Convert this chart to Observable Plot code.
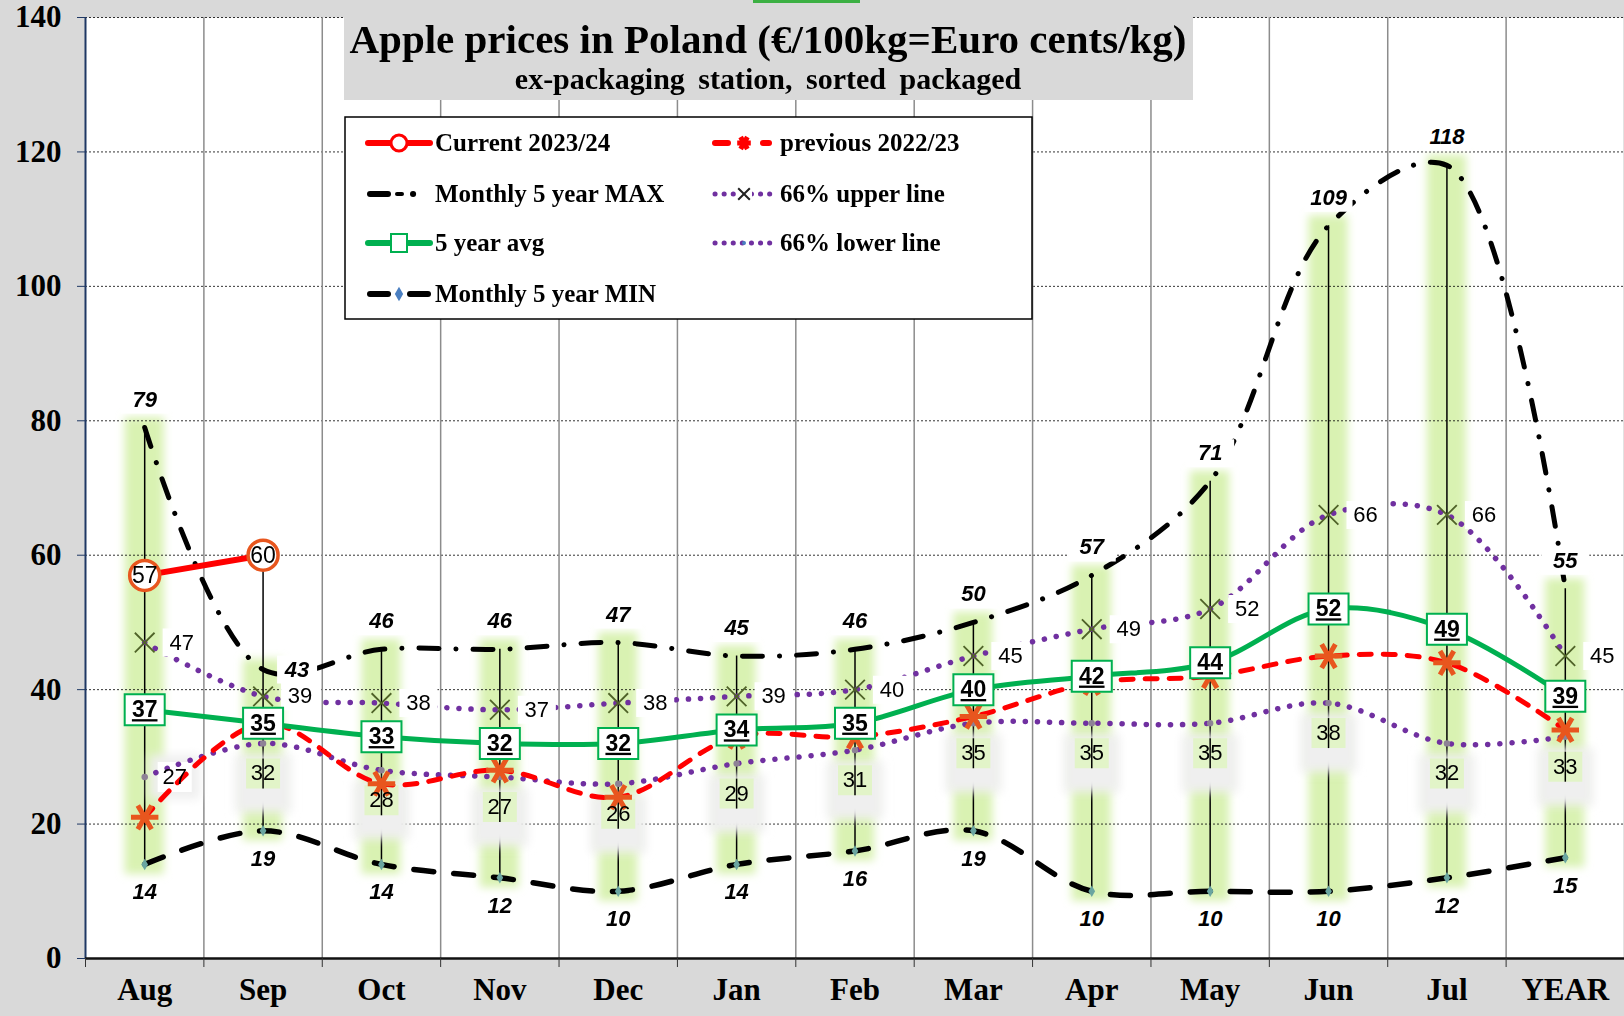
<!DOCTYPE html>
<html><head><meta charset="utf-8">
<script src="https://cdn.jsdelivr.net/npm/d3@7"></script>
<script src="https://cdn.jsdelivr.net/npm/@observablehq/plot@0.6"></script>
<style>
html,body{margin:0;padding:0;background:#d9d9d9;}
#wrap{position:relative;width:1624px;height:1016px;overflow:hidden;}
#overlay{position:absolute;left:0;top:0;pointer-events:none;}
</style></head>
<body><div id="wrap"><div id="chart"></div><svg id="overlay" width="1624" height="1016"></svg></div>
<script>
// ---------- data ----------
const months = ["Aug","Sep","Oct","Nov","Dec","Jan","Feb","Mar","Apr","May","Jun","Jul","YEAR"];
const maxV = [79, 43, 46, 46, 47, 45, 46, 50, 57, 71, 109, 118, 55];
const minV = [14, 19, 14, 12, 10, 14, 16, 19, 10, 10, 10, 12, 15];
const avgV = [37, 35, 33, 32, 32, 34, 35, 40, 42, 44, 52, 49, 39];
const upperV = [47, 39, 38, 37, 38, 39, 40, 45, 49, 52, 66, 66, 45];
const lowerV = [27, 32, 28, 27, 26, 29, 31, 35, 35, 35, 38, 32, 33];
const currentV = [57, 60];
const previousV = [21, 35, 26, 28, 24, 33, 33, 36, 41, 42, 45, 44, 34];
const yTicks = [0, 20, 40, 60, 80, 100, 120, 140];
const titleText = "Apple prices in Poland (€/100kg=Euro cents/kg)";
const subtitleText = "ex-packaging station, sorted packaged";
const legendNames = ["Current 2023/24", "previous 2022/23", "Monthly 5 year MAX", "66% upper line", "5 year avg", "66% lower line", "Monthly 5 year MIN"];

// ---------- styles ----------
const SERIF = "'Liberation Serif','Times New Roman',serif";
const SANS = "'Liberation Sans',Arial,sans-serif";
const RED = "#ff0000", GREEN = "#00b050", PURPLE = "#7030a0", ORANGE = "#e8561e";
const GLOW = "#d9f2b2", HALO = "#efefef", AVGTXT = "#010101";

const rows = months.map((m, i) => ({
  i, m, max: maxV[i], min: minV[i], avg: avgV[i], upper: upperV[i], lower: lowerV[i],
  prev: previousV[i], cur: currentV[i]
}));
rows.forEach(d => { d.top = d3.max([d.max, d.cur ?? -Infinity]); });
const curRows = rows.filter(d => d.cur != null);
const bounds = d3.range(-0.5, 13, 1);

const rectSym = (w, h) => ({draw(ctx) { ctx.moveTo(-w/2, -h/2); ctx.lineTo(w/2, -h/2); ctx.lineTo(w/2, h/2); ctx.lineTo(-w/2, h/2); ctx.closePath(); }});
const vSeg = h => ({draw(ctx) { ctx.moveTo(0, -h/2); ctx.lineTo(0, h/2); }});

const maxRight = d => d.cur != null && d.cur > d.max;   // label moved aside when the current value sits on top
const lowerRight = d => d.i === 0;                      // first label sits right of its point
const maxA = rows.filter(d => !maxRight(d)), maxB = rows.filter(maxRight);
const lowA = rows.filter(d => !lowerRight(d)), lowB = rows.filter(lowerRight);

const lab = {x: "i", fontFamily: SANS, fontSize: 22, fill: "#000"};
const LB = 30; // lower label offset

const chart = Plot.plot({
  width: 1624, height: 1016,
  marginLeft: 85, marginRight: 0, marginTop: 17, marginBottom: 58,
  x: {domain: [-0.5, 12.5], label: null},
  y: {domain: [0, 140], label: null},
  style: {background: "#d9d9d9", color: "#000"},
  marks: [
    Plot.frame({fill: "white", stroke: "none"}),
    Plot.rect(rows, {x1: d => d.i - 0.165, x2: d => d.i + 0.165, y1: "min", y2: "max", insetTop: -10, insetBottom: -10, fill: GLOW, ariaDescription: "glow"}),
    Plot.ruleY(yTicks.filter(v => v > 0), {stroke: "#000", strokeDasharray: "2 2", strokeWidth: 1, strokeOpacity: 0.8}),
    Plot.ruleX(bounds.slice(1), {y1: 0, y2: 140, stroke: "#8c8c8c", strokeWidth: 1.5}),
    Plot.ruleX(rows, {x: "i", y1: "min", y2: "top", stroke: "#000", strokeWidth: 1.5}),
    // lower-line label halos and boxes
    Plot.dot(lowA, {x: "i", y: "lower", dy: LB + 10, symbol: rectSym(56, 58), fill: HALO, ariaDescription: "halo"}),
    Plot.dot(lowB, {x: "i", y: "lower", dx: 30, symbol: rectSym(50, 44), fill: HALO, ariaDescription: "halo"}),
    Plot.dot(lowA, {x: "i", y: "lower", dy: LB, symbol: rectSym(34, 30), fill: "#e2f4c8"}),
    Plot.dot(lowB, {x: "i", y: "lower", dx: 30, symbol: rectSym(34, 30), fill: "white"}),
    Plot.dot(lowA, {x: "i", y: "lower", dy: LB, symbol: vSeg(30), stroke: "#000", strokeWidth: 1.5, fill: "none"}),
    Plot.ruleX([-0.5], {stroke: "#1f3864", strokeWidth: 2}),
    Plot.ruleY([0], {stroke: "#111", strokeWidth: 2.5}),
    // lines
    Plot.line(rows, {x: "i", y: "lower", curve: "catmull-rom", stroke: PURPLE, strokeWidth: 5.5, strokeDasharray: "0.1 12", strokeLinecap: "round"}),
    Plot.line(rows, {x: "i", y: "upper", curve: "catmull-rom", stroke: PURPLE, strokeWidth: 5.5, strokeDasharray: "0.1 12", strokeLinecap: "round"}),
    Plot.line(rows, {x: "i", y: "min", curve: "catmull-rom", stroke: "#000", strokeWidth: 5.5, strokeDasharray: "20 20", strokeLinecap: "round"}),
    Plot.line(rows, {x: "i", y: "max", curve: "catmull-rom", stroke: "#000", strokeWidth: 5, strokeDasharray: "20 17 0.1 17", strokeLinecap: "round"}),
    Plot.line(rows, {x: "i", y: "prev", curve: "catmull-rom", stroke: RED, strokeWidth: 5, strokeDasharray: "12 12", strokeLinecap: "round"}),
    Plot.line(rows, {x: "i", y: "avg", curve: "catmull-rom", stroke: GREEN, strokeWidth: 5}),
    Plot.line(curRows, {x: "i", y: "cur", stroke: RED, strokeWidth: 6}),
    // markers
    Plot.dot(rows, {x: "i", y: "min", symbol: "diamond", r: 3.5, fill: "#6aa5a0"}),
    Plot.dot(rows, {x: "i", y: "lower", r: 3.2, fill: "#8e8296"}),
    Plot.dot(rows, {x: "i", y: "upper", symbol: "times", r: 9, stroke: "#4f6228", strokeWidth: 1.8, fill: "none"}),
    Plot.dot(rows, {x: "i", y: "prev", symbol: "asterisk", rotate: 90, r: 13, stroke: ORANGE, strokeWidth: 5, fill: "none"}),
    // MAX labels
    Plot.dot(maxA, {x: "i", y: "max", dy: -28, symbol: rectSym(48, 28), fill: "white"}),
    Plot.text(maxA, {...lab, y: "max", dy: -28, text: d => String(d.max), fontWeight: "bold", fontStyle: "italic"}),
    Plot.dot(maxB, {x: "i", y: "max", dx: 34, symbol: rectSym(40, 28), fill: "white"}),
    Plot.text(maxB, {...lab, y: "max", dx: 34, text: d => String(d.max), fontWeight: "bold", fontStyle: "italic"}),
    // MIN labels
    Plot.text(rows, {...lab, y: "min", dy: 28, text: d => String(d.min), fontWeight: "bold", fontStyle: "italic"}),
    // upper labels
    Plot.dot(rows, {x: "i", y: "upper", dx: 37, symbol: rectSym(38, 28), fill: "white"}),
    Plot.text(rows, {...lab, y: "upper", dx: 37, text: d => String(d.upper)}),
    // lower labels
    Plot.text(lowA, {...lab, y: "lower", dy: LB, text: d => String(d.lower)}),
    Plot.text(lowB, {...lab, y: "lower", dx: 30, text: d => String(d.lower)}),
    // avg labels
    Plot.dot(rows, {x: "i", y: "avg", symbol: rectSym(40, 31), fill: "white", stroke: GREEN, strokeWidth: 2}),
    Plot.text(rows, {...lab, y: "avg", text: d => String(d.avg), fontWeight: "bold", fontSize: 23, fill: AVGTXT, ariaDescription: "avglabel"}),
    // current
    Plot.dot(curRows, {x: "i", y: "cur", r: 15, fill: "white", stroke: ORANGE, strokeWidth: 3.5}),
    Plot.text(curRows, {...lab, y: "cur", text: d => String(d.cur), fontSize: 23}),
    // axes
    Plot.axisY({ticks: yTicks, tickSize: 8, tickPadding: 16, fontSize: 31, fontWeight: "bold", fontFamily: SERIF, label: null, stroke: "#1f3864"}),
    Plot.axisX({ticks: d3.range(13), tickFormat: i => months[i], tickSize: 0, tickPadding: 19, fontSize: 31, fontWeight: "bold", fontFamily: SERIF, label: null}),
    Plot.axisX({ticks: bounds, tickSize: 9, tickFormat: () => "", label: null, stroke: "#333"})
  ]
});
document.getElementById("chart").appendChild(chart);

// soft glow via SVG filters
const defs = d3.select(chart).insert("defs", ":first-child");
[["blurG", 4.5], ["blurH", 5]].forEach(([id, s]) => {
  defs.append("filter").attr("id", id).attr("filterUnits", "userSpaceOnUse")
    .attr("x", 0).attr("y", 0).attr("width", 1624).attr("height", 1016)
    .append("feGaussianBlur").attr("stdDeviation", s);
});
const pick = (desc, fill) => {
  const set = new Set([...chart.querySelectorAll(`[aria-description="${desc}"]`)]);
  chart.querySelectorAll("g").forEach(g => { if ((g.getAttribute("fill") || "").toLowerCase() === fill) set.add(g); });
  return [...set];
};
pick("glow", GLOW).forEach(g => g.setAttribute("filter", "url(#blurG)"));
pick("halo", HALO).forEach(g => g.setAttribute("filter", "url(#blurH)"));
pick("avglabel", AVGTXT).forEach(el => {
  const ts = el.tagName === "text" ? [el] : el.querySelectorAll("text");
  ts.forEach(t => { t.style.textDecoration = "underline"; t.setAttribute("text-decoration", "underline"); });
});

// ---------- title box & legend overlay ----------
const ov = d3.select("#overlay");
ov.append("rect").attr("x", 753).attr("y", 0).attr("width", 107).attr("height", 3).attr("fill", "#3cb043");
ov.append("rect").attr("x", 344).attr("y", 17).attr("width", 849).attr("height", 83).attr("fill", "#d9d9d9");
ov.append("text").attr("x", 768).attr("y", 53).attr("text-anchor", "middle")
  .attr("font-family", SERIF).attr("font-weight", "bold").attr("font-size", 41).text(titleText);
ov.append("text").attr("x", 768).attr("y", 89).attr("text-anchor", "middle")
  .attr("font-family", SERIF).attr("font-weight", "bold").attr("font-size", 30).attr("word-spacing", 6).text(subtitleText);

ov.append("rect").attr("x", 345).attr("y", 117).attr("width", 687).attr("height", 202)
  .attr("fill", "white").attr("stroke", "#000").attr("stroke-width", 1.5);

function seg(x0, x1, y, stroke, w, dash, cap) {
  ov.append("line").attr("x1", x0).attr("x2", x1).attr("y1", y).attr("y2", y)
    .attr("stroke", stroke).attr("stroke-width", w).attr("stroke-dasharray", dash || null).attr("stroke-linecap", cap || "butt");
}
function sym(type, size, x, y, attrs, rot) {
  const p = ov.append("path").attr("d", d3.symbol(type, size)()).attr("transform", `translate(${x},${y}) rotate(${rot || 0})`);
  for (const k in attrs) p.attr(k, attrs[k]);
}
const legendPos = [[368, 143], [713, 143], [368, 194], [713, 194], [368, 243], [713, 243], [368, 294]];
legendPos.forEach(([x, y], k) => {
  const c = x + 31;
  if (k === 0) { seg(x, x + 62, y, RED, 6, null, "round"); ov.append("circle").attr("cx", c).attr("cy", y).attr("r", 8).attr("fill", "white").attr("stroke", RED).attr("stroke-width", 3); }
  if (k === 1) { seg(x + 2, x + 15, y, RED, 6, null, "round"); seg(x + 50, x + 56, y, RED, 6, null, "round"); sym(d3.symbolAsterisk, 130, c, y, {stroke: RED, "stroke-width": 5, fill: "none"}, 90); }
  if (k === 2) { seg(x + 2, x + 20, y, "#000", 6, null, "round"); seg(x + 29, x + 34, y, "#000", 4, null, "round"); seg(x + 45, x + 45.1, y, "#000", 6, null, "round"); }
  if (k === 3) { seg(x + 2, x + 62, y, PURPLE, 5, "0.1 9", "round"); ov.append("rect").attr("x", c - 8).attr("y", y - 8).attr("width", 16).attr("height", 16).attr("fill", "white"); sym(d3.symbolTimes, 90, c, y, {stroke: "#222", "stroke-width": 2, fill: "none"}); }
  if (k === 4) { seg(x, x + 62, y, GREEN, 6, null, "round"); ov.append("rect").attr("x", c - 8).attr("y", y - 9).attr("width", 16).attr("height", 18).attr("fill", "white").attr("stroke", GREEN).attr("stroke-width", 2); }
  if (k === 5) { seg(x + 2, x + 62, y, PURPLE, 5, "0.1 9", "round"); ov.append("circle").attr("cx", c).attr("cy", y).attr("r", 2).attr("fill", "#4a7fc1"); }
  if (k === 6) { seg(x + 2, x + 20, y, "#000", 6, null, "round"); seg(x + 42, x + 60, y, "#000", 6, null, "round"); sym(d3.symbolDiamond, 60, c, y, {fill: "#4a7fc1"}); }
  ov.append("text").attr("x", x + 67).attr("y", y).attr("dy", "0.33em")
    .attr("font-family", SERIF).attr("font-weight", "bold").attr("font-size", 25).text(legendNames[k]);
});
</script>
</body></html>
